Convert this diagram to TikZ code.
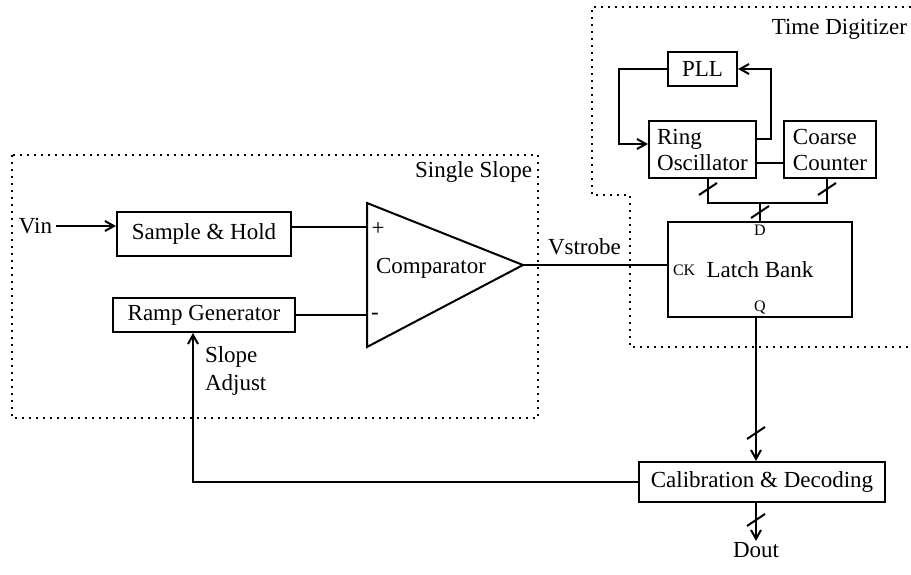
\documentclass[tikz,border=0pt]{standalone}
\usepackage{fontspec}
\setmainfont{Liberation Serif}
\usetikzlibrary{arrows.meta,positioning,calc}
\tikzset{
  blk/.style={draw,rectangle,inner sep=0pt,font=\fontsize{23}{26}\selectfont},
  lbl/.style={inner sep=0pt,font=\fontsize{23}{28}\selectfont},
  pinlbl/.style={inner sep=0pt,font=\fontsize{16}{18}\selectfont},
  region/.style={dash pattern=on 1.6pt off 5.4pt,line width=1.6pt},
  bus/.pic={\draw (-9,6) -- (9,-6);}
}

\begin{document}
\begin{tikzpicture}[x=1pt,y=-1pt,line width=2pt,>={Straight Barb[length=9pt,width=10pt]}]
  \useasboundingbox (0,0) rectangle (911,574);
  % dotted regions
  \draw[region] (12,155) rectangle (538,418);
  \draw[region] (911,7) -- (592,7) -- (592,195) -- (630,195) -- (630,347) -- (911,347);
  \node[lbl,anchor=base east] at (533,177) {Single Slope};
  \node[lbl,anchor=base east] at (908,34) {Time Digitizer};
  % single slope part
  \node[lbl,anchor=west] (vin) at (18,226) {Vin};
  \node[blk,minimum width=174pt,minimum height=44pt] (sh) at (204,234) {Sample \& Hold};
  \node[blk,minimum width=182pt,minimum height=34pt] (ramp) at (204,315) {Ramp Generator};
  \coordinate (cp) at (367,227);
  \coordinate (cm) at (367,315);
  \coordinate (tip) at (523,265);
  \draw (367,203) -- (tip) -- (367,347) -- cycle;
  \node[lbl] (cmp) at (431,268) {Comparator};
  \node[lbl] at (378,229) {+};
  \node[lbl] at (375,316) {-};
  \draw[->] ([xshift=3pt]vin.east) -- (vin -| sh.west);
  \draw (sh.east |- cp) -- (cp);
  \draw (ramp.east) -- (cm);
  \node[lbl,anchor=north west,align=left] (slope) at (204,346) {Slope\\Adjust};
  % time digitizer part
  \node[blk,minimum width=69pt,minimum height=34pt] (pll) at (702.5,69) {PLL};
  \node[blk,minimum width=107pt,minimum height=57pt,align=left] (ring) at (702.5,149.5) {Ring\\Oscillator};
  \node[blk,minimum width=92pt,minimum height=57pt,align=left] (coarse) at (830,149.5) {Coarse\\Counter};
  \draw[->] (pll.west) -- ++(-48,0) |- ([yshift=5.5pt]ring.west);
  \draw[->] ([yshift=10.5pt]ring.east) -- ++(14,0) |- (pll.east);
  \draw ([yshift=-13.5pt]ring.east) -- ([yshift=-13.5pt]ring.east -| coarse.west);
  \node[blk,minimum width=184pt,minimum height=95pt] (latch) at (760,269.5) {Latch Bank};
  \node[pinlbl,anchor=west] at ([xshift=5pt,yshift=-1pt]latch.west) {CK};
  \node[pinlbl,anchor=north] at ([yshift=-3pt]latch.north) {D};
  \node[pinlbl,anchor=south] at ([yshift=3pt]latch.south) {Q};
  \coordinate (bj) at (latch.north |- 0,202);
  \draw ([xshift=5.5pt]ring.south) -- ++(0,24) -| ([xshift=-3pt]coarse.south);
  \draw (bj) -- (latch.north);
  \pic at (708,189) {bus};
  \pic at (827,189) {bus};
  \pic at (760,212) {bus};
  \draw (tip) -- (tip -| latch.west);
  \node[lbl,anchor=base west] (vstrobe) at (547,254) {Vstrobe};
  % output part
  \node[blk,minimum width=246pt,minimum height=40pt] (cal) at (762,482) {Calibration \& Decoding};
  \node[lbl,anchor=north] (dout) at (756,541) {Dout};
  \draw[->] ([xshift=-4pt]latch.south) -- ([xshift=-4pt]latch.south |- cal.north);
  \draw[->] (cal.south -| dout) -- (dout.north);
  \pic at (756,433) {bus};
  \pic at (756,520) {bus};
  \draw[->] (cal.west) -| ([xshift=-11pt]ramp.south);
\end{tikzpicture}
\end{document}
